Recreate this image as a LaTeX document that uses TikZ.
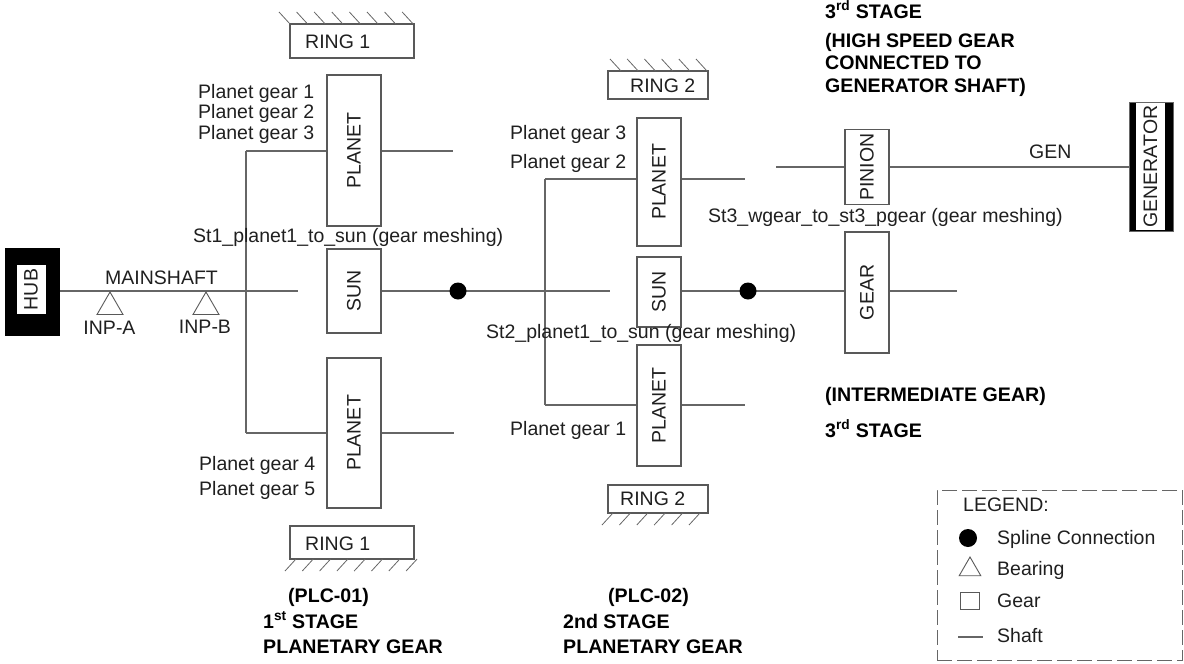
\documentclass[tikz,border=0pt]{standalone}
\usepackage{fontspec}
\setmainfont{Liberation Sans}
\usetikzlibrary{shapes.geometric}
\tikzset{
  x=1pt,y=-1pt,
  every node/.style={font=\fontsize{19.5}{22}\selectfont,text=black!88,inner sep=0pt},
  gearbox/.style={draw=black!65,line width=1.1pt,fill=white,rotate=90},
  ringbox/.style={draw=black!65,line width=1.1pt,fill=white},
  shaft/.style={draw=black!60,line width=1.1pt},
  hatch/.style={draw=black!60,line width=0.8pt},
  spline/.style={circle,fill=black,minimum size=17pt},
  bearing/.style={regular polygon,regular polygon sides=3,draw=black!65,line width=0.9pt,minimum size=30pt,fill=white},
  lbl/.style={anchor=base west},
  bold/.style={anchor=base west,font=\fontsize{19.6}{22}\selectfont\bfseries,text=black},
}
\newcommand{\gearrect}[6]{% name, cx, cy, w(vertical extent), h, text
  \node[gearbox,minimum width=#4pt,minimum height=#5pt] (#1) at (#2,#3) {#6};}
\begin{document}
\begin{tikzpicture}
\useasboundingbox (0,0) rectangle (1184,664);
% Hub
\node[fill=black,minimum width=55pt,minimum height=88pt] (hubo) at (32.5,292) {};
\node[fill=white,rotate=90,minimum width=49pt,minimum height=29pt] (hub) at (31,289.5) {HUB};
% Stage 1
\gearrect{pa}{354}{150.5}{151}{54}{PLANET}
\gearrect{sa}{354}{291}{84}{54}{SUN}
\gearrect{pb}{354}{433}{150}{54}{PLANET}
\node[ringbox,minimum width=124pt,minimum height=34pt] (ra) at (352,41) {};
\node[lbl] at (305,48) {RING 1};
\node[ringbox,minimum width=124pt,minimum height=33pt] (rb) at (352,542.5) {};
\node[lbl] at (305,550) {RING 1};
% Stage 2
\gearrect{pc}{659}{182}{128}{44}{PLANET}
\gearrect{sb}{659}{292}{70}{44}{SUN}
\gearrect{pd}{659}{405.5}{121}{44}{PLANET}
\node[ringbox,minimum width=100pt,minimum height=28pt] (rc) at (658,85) {};
\node[lbl] at (630,92) {RING 2};
\node[ringbox,minimum width=100pt,minimum height=28pt] (rd) at (658,499) {};
\node[lbl] at (620,505) {RING 2};
% Stage 3
\gearrect{pin}{867}{167}{75}{44}{PINION}
\gearrect{gr}{867}{292.5}{121}{44}{GEAR}
\node[fill=black,draw=black!60,minimum width=44pt,minimum height=129pt] (geno) at (1151,166.5) {};
\node[fill=white,rotate=90,minimum width=127pt,minimum height=29pt] (gen) at (1150.5,166.5) {GENERATOR};
% coordinates
\coordinate (j1) at (246,291); \coordinate (j1t) at (246,151); \coordinate (j1b) at (246,433);
\coordinate (e1) at (453,151); \coordinate (e2) at (454,433);
\coordinate (m1) at (298,291);
\coordinate (j2t) at (545,179); \coordinate (j2b) at (545,405);
\coordinate (e3) at (745,179); \coordinate (e4) at (745,405);
\coordinate (m2) at (610,291);
\coordinate (e5) at (776,167); \coordinate (e6) at (957,291);
% shafts
\path[shaft] (hubo.east |- j1) -- (m1);
\path[shaft] (j1t) -- (j1b);
\path[shaft] (j1t) -- (j1t -| pa.north);
\path[shaft] (j1b) -- (j1b -| pb.north);
\path[shaft] (pa.south |- e1) -- (e1);
\path[shaft] (pb.south |- e2) -- (e2);
\path[shaft] (sa.south) -- (m2);
\path[shaft] (j2t) -- (j2b);
\path[shaft] (j2t) -- (j2t -| pc.north);
\path[shaft] (j2b) -- (j2b -| pd.north);
\path[shaft] (pc.south |- e3) -- (e3);
\path[shaft] (pd.south |- e4) -- (e4);
\path[shaft] (sb.south |- j1) -- (j1 -| gr.north);
\path[shaft] (e5) -- (pin.north |- e5);
\path[shaft] (pin.south) -- (pin.south -| geno.west);
\path[shaft] (gr.south |- e6) -- (e6);
% hatches
\foreach \i in {0,...,7}{\draw[hatch] ({290+\i*17.6},24) -- ++(-11,-12);}
\foreach \i in {0,...,7}{\draw[hatch] ({296+\i*17.3},559) -- ++(-11,12);}
\foreach \i in {0,...,5}{\draw[hatch] ({621+\i*17.2},71) -- ++(-11,-12);}
\foreach \i in {0,...,5}{\draw[hatch] ({613+\i*17.4},513) -- ++(-11,12);}
% splines, bearings
\node[spline] (s1) at (458,291) {};
\node[spline] (s2) at (748,291) {};
\node[bearing] (ba) at (110,307) {};
\node[bearing] (bb) at (206,307) {};
% labels
\node at (161.5,278) {MAINSHAFT};
\node at (109.5,328) {INP-A};
\node at (205,327) {INP-B};
\node[lbl] at (198,98) {Planet gear 1};
\node[lbl] at (198,118) {Planet gear 2};
\node[lbl] at (198,139) {Planet gear 3};
\node[lbl] at (510,139) {Planet gear 3};
\node[lbl] at (510,168) {Planet gear 2};
\node[lbl] at (510,435) {Planet gear 1};
\node[lbl] at (199,470) {Planet gear 4};
\node[lbl] at (199,495) {Planet gear 5};
\node[lbl] at (193,242) {St1\_planet1\_to\_sun (gear meshing)};
\node[lbl] at (486,338) {St2\_planet1\_to\_sun (gear meshing)};
\node[lbl] at (708,222) {St3\_wgear\_to\_st3\_pgear (gear meshing)};
\node[lbl] at (1029,158) {GEN};
% bold
\node[bold] at (825,18) {3\textsuperscript{rd} STAGE};
\node[bold] at (825,47) {(HIGH SPEED GEAR};
\node[bold] at (825,69) {CONNECTED TO};
\node[bold] at (825,92) {GENERATOR SHAFT)};
\node[bold] at (825,401) {(INTERMEDIATE GEAR)};
\node[bold] at (825,437) {3\textsuperscript{rd} STAGE};
\node[bold] at (288,602) {(PLC-01)};
\node[bold] at (263,628) {1\textsuperscript{st} STAGE};
\node[bold] at (263,653) {PLANETARY GEAR};
\node[bold] at (608,602) {(PLC-02)};
\node[bold] at (563,628) {2nd STAGE};
\node[bold] at (563,653) {PLANETARY GEAR};
% legend
\node[draw=black!60,line width=1pt,dash pattern=on 15pt off 5pt,minimum width=245pt,minimum height=170pt] (leg) at (1059.5,575) {};
\node[lbl] at (963,511) {LEGEND:};
\node[spline,minimum size=18pt] (ls) at (968,538) {};
\node[bearing,minimum size=25pt] (lb) at (970,569.5) {};
\node[draw=black!65,line width=1pt,minimum width=19pt,minimum height=17pt] (lg) at (969.5,600.5) {};
\coordinate (lsa) at (958,637); \coordinate (lsb) at (983,637);
\path[shaft] (lsa) -- (lsb);
\node[lbl] at (997,544) {Spline Connection};
\node[lbl] at (997,575) {Bearing};
\node[lbl] at (997,607) {Gear};
\node[lbl] at (997,642) {Shaft};
\end{tikzpicture}
\end{document}
